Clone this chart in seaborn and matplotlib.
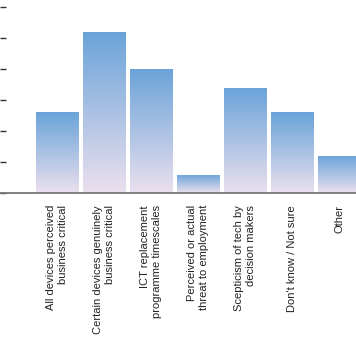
import numpy as np
import pandas as pd
import seaborn as sns
import matplotlib.pyplot as plt
from matplotlib.colors import LinearSegmentedColormap

# Data (percent of respondents)
reasons = ['All devices perceived\nbusiness critical',
           'Certain devices genuinely\nbusiness critical',
           'ICT replacement\nprogramme timescales',
           'Perceived or actual\nthreat to employment',
           'Scepticism of tech by\ndecision makers',
           "Don't know / Not sure",
           'Other']
share = [13, 26, 20, 3, 17, 13, 6]
yticks = [0, 5, 10, 15, 20, 25, 30]

df = pd.DataFrame({'reason': reasons, 'share': share})

sns.set_style('white')
plt.rcParams['font.family'] = ['Liberation Sans', 'DejaVu Sans']

fig = plt.figure(figsize=(3.56, 3.57), dpi=100)
ax = fig.add_axes([0, 1 - 193.3 / 357, 1, 193.3 / 357])

sns.barplot(data=df, x='reason', y='share', ax=ax, width=0.893,
            color='white', edgecolor='none', linewidth=0)

# gradient fill: blue at the top of each bar fading to lavender at the base
grad_cmap = LinearSegmentedColormap.from_list('bar_grad', ['#ebe0ee', '#6aa3d9'])
grad = np.linspace(0, 1, 256).reshape(-1, 1)
for p in ax.patches:
    x0, y0 = p.get_x(), p.get_y()
    w, h = p.get_width(), p.get_height()
    p.set_facecolor('none')
    im = ax.imshow(grad, cmap=grad_cmap, origin='lower', aspect='auto',
                   extent=[x0, x0 + w, y0, y0 + h], zorder=2)
    im.set_clip_path(p)

ax.set_xlim(-1.211, 6.355)
ax.set_ylim(0, 31.08)
ax.set_yticks(yticks)
ax.set_yticklabels([])
ax.set(xlabel='', ylabel='')
for s in ['left', 'top', 'right']:
    ax.spines[s].set_visible(False)
ax.spines['bottom'].set_color('#777777')
ax.spines['bottom'].set_linewidth(1.3)
ax.tick_params(axis='y', left=True, direction='in', length=4, width=1,
               color='#333333')
ax.tick_params(axis='x', length=0, pad=8.5)
for lbl in ax.get_xticklabels():
    lbl.set_rotation(90)
    lbl.set_ha('center')
    lbl.set_va('top')
    lbl.set_multialignment('right')
    lbl.set_fontsize(8)
    lbl.set_color('#222222')

fig.savefig('out.png', dpi=100)
